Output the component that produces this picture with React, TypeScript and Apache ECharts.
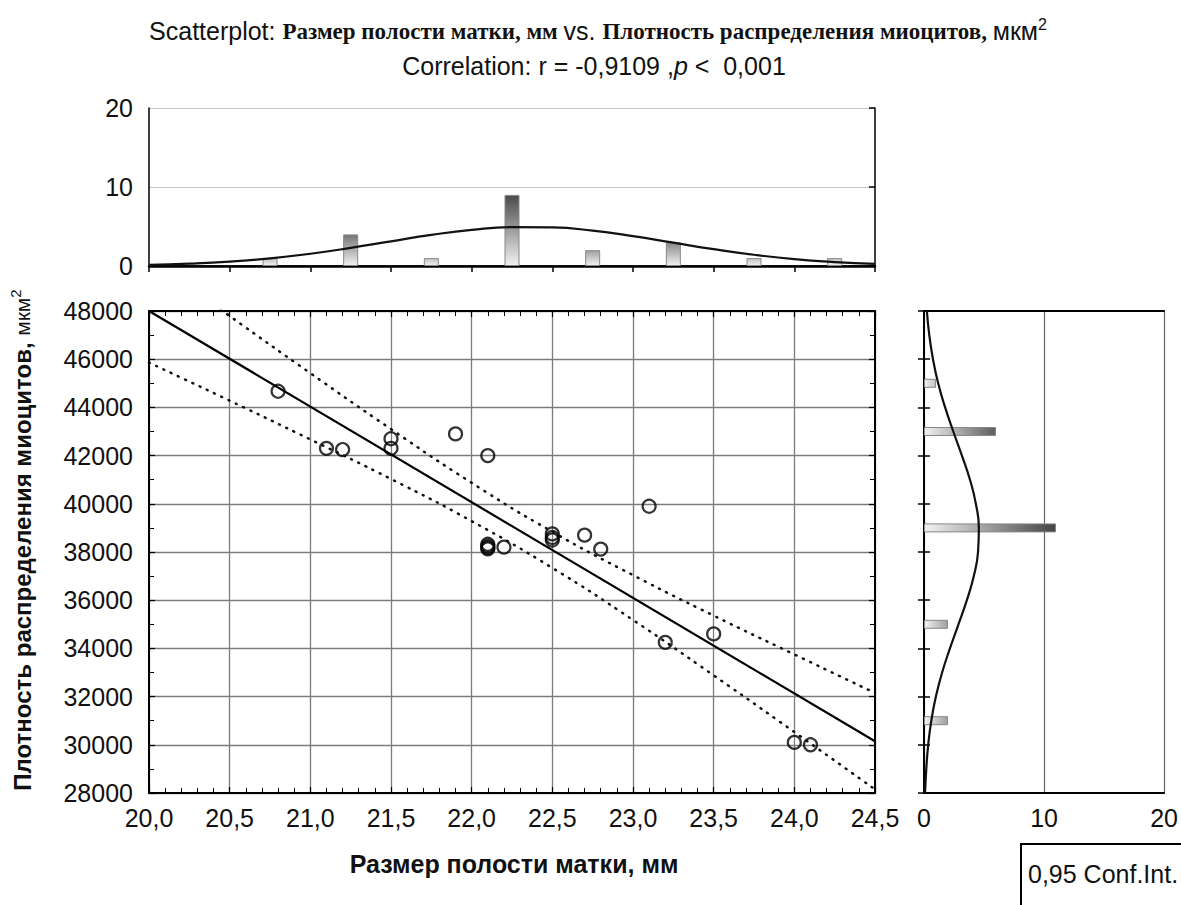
import React, { useEffect, useRef } from "react";
import * as echarts from "echarts";

const SANS = "'Liberation Sans', Arial, sans-serif";
const SERIF = "'Liberation Serif', 'Times New Roman', serif";

// Scatter data: uterine cavity size (mm) vs myocyte distribution density (µm²)
const sizeMm = [20.8, 21.1, 21.2, 21.5, 21.5, 21.9, 22.1, 22.1, 22.1, 22.1, 22.1, 22.2, 22.5, 22.5, 22.5, 22.7, 22.8, 23.1, 23.2, 23.5, 24.0, 24.1];
const density = [44670, 42300, 42250, 42700, 42300, 42900, 42000, 38320, 38250, 38180, 38130, 38200, 38750, 38600, 38500, 38700, 38120, 39900, 34250, 34600, 30100, 30000];

// Regression line and 0.95 confidence band
const fitX = [20.0, 24.5];
const fitY = [48000, 30150];
const bandX = [20.0, 20.5, 21.0, 21.5, 22.0, 22.5, 23.0, 23.5, 24.0, 24.5];
const bandUpper = [50170, 47790, 45420, 43100, 40870, 38840, 37040, 35360, 33750, 32150];
const bandLower = [45860, 44280, 42670, 41030, 39280, 37340, 35180, 32880, 30530, 28150];

// Top histogram (size, bins of 0.5 mm)
const topBinCenters = [20.25, 20.75, 21.25, 21.75, 22.25, 22.75, 23.25, 23.75, 24.25];
const topCounts = [0, 1, 4, 1, 9, 2, 3, 1, 1];
const topCurveX = [20.0, 20.25, 20.5, 20.75, 21.0, 21.25, 21.5, 21.75, 22.0, 22.25, 22.5, 22.75, 23.0, 23.25, 23.5, 23.75, 24.0, 24.25, 24.5];
const topCurveY = [0.15, 0.3, 0.56, 0.97, 1.55, 2.29, 3.12, 3.94, 4.58, 4.92, 4.88, 4.47, 3.78, 2.95, 2.13, 1.42, 0.87, 0.5, 0.26];

// Right histogram (density, bins of 2000)
const rightBins = ["29000", "31000", "33000", "35000", "37000", "39000", "41000", "43000", "45000", "47000"];
const rightCounts = [0, 2, 0, 2, 0, 11, 0, 6, 1, 0];
const rightCurveY = [28000, 29000, 30000, 31000, 32000, 33000, 34000, 35000, 36000, 37000, 38000, 39000, 40000, 41000, 42000, 43000, 44000, 45000, 46000, 47000, 48000];
const rightCurveX = [0.09, 0.19, 0.35, 0.61, 0.99, 1.51, 2.16, 2.87, 3.57, 4.15, 4.5, 4.57, 4.32, 3.83, 3.16, 2.44, 1.76, 1.18, 0.75, 0.44, 0.24];

// Tick labels
const xTickFmt = (v: number) => v.toFixed(1).replace(".", ",");
const histTicks = [0, 10, 20];

function shade(v: number) {
  const g = Math.round(235 - 175 * (1 - Math.exp(-v / 3.6)));
  return `rgb(${g},${g},${g})`;
}

const labelStyle = { fontFamily: SANS, fontSize: 25, color: "#111" };
const blackLine = (w: number) => ({ show: true, lineStyle: { color: "#000", width: w } });

function barItemStyle(v: number, horizontal: boolean) {
  if (v === 0) return { color: "rgba(0,0,0,0)", borderWidth: 0 };
  const stops = horizontal
    ? [{ offset: 0, color: "#f2f2f2" }, { offset: 1, color: shade(v) }]
    : [{ offset: 0, color: shade(v) }, { offset: 1, color: "#f2f2f2" }];
  return {
    color: horizontal
      ? new echarts.graphic.LinearGradient(0, 0, 1, 0, stops)
      : new echarts.graphic.LinearGradient(0, 0, 0, 1, stops),
  };
}

function buildOption() {
  const topBarData = topBinCenters.map((c, i) => ({
    value: [c, topCounts[i]],
    itemStyle: barItemStyle(topCounts[i], false),
  }));
  const rightBarData = rightCounts.map((v) => ({
    value: v,
    itemStyle: barItemStyle(v, true),
  }));

  return {
    animation: false,
    backgroundColor: "#fff",
    grid: [
      { left: 149, top: 108, width: 726, height: 158 },
      { left: 149, top: 311, width: 726, height: 482 },
      { left: 924, top: 311, width: 241, height: 482 },
    ],
    xAxis: [
      {
        gridIndex: 0, type: "value", min: 20, max: 24.5, interval: 0.5,
        axisLine: blackLine(2.5), axisTick: { show: false }, axisLabel: { show: false }, splitLine: { show: false },
      },
      {
        gridIndex: 0, type: "value", position: "top", min: 20, max: 24.5, interval: 0.5,
        axisLine: blackLine(1.5), axisTick: { show: true, inside: true, length: 6, lineStyle: { color: "#000", width: 1.5 } },
        axisLabel: { show: false }, splitLine: { show: false },
      },
      {
        gridIndex: 1, type: "value", min: 20, max: 24.5, interval: 0.5,
        axisLine: blackLine(2), axisTick: { show: true, inside: true, length: 6, lineStyle: { color: "#000", width: 1.2 } },
        minorTick: { show: true, splitNumber: 5, length: 5, lineStyle: { color: "#000", width: 1 } },
        axisLabel: { ...labelStyle, margin: 12, formatter: xTickFmt },
        splitLine: { show: true, lineStyle: { color: "#7c7c7c", width: 1.3 } },
      },
      {
        gridIndex: 1, type: "value", position: "top", min: 20, max: 24.5, interval: 0.5,
        axisLine: blackLine(2), axisTick: { show: true, inside: true, length: 6, lineStyle: { color: "#000", width: 1.2 } },
        minorTick: { show: true, splitNumber: 5, length: 5, lineStyle: { color: "#000", width: 1 } },
        axisLabel: { show: false }, splitLine: { show: false },
      },
      {
        gridIndex: 2, type: "value", min: 0, max: 20, interval: 10,
        axisLine: blackLine(2), axisTick: { show: false },
        axisLabel: { ...labelStyle, margin: 12, formatter: (v: number) => (histTicks.includes(v) ? String(v) : "") },
        splitLine: { show: true, lineStyle: { color: "#666", width: 1.2 } },
      },
      {
        gridIndex: 2, type: "value", position: "top", min: 0, max: 20, interval: 10,
        axisLine: blackLine(2), axisTick: { show: false }, axisLabel: { show: false }, splitLine: { show: false },
      },
    ],
    yAxis: [
      {
        gridIndex: 0, type: "value", min: 0, max: 20, interval: 10,
        axisLine: blackLine(1.5), axisTick: { show: false },
        axisLabel: { ...labelStyle, margin: 16, formatter: (v: number) => String(v) },
        splitLine: { show: true, lineStyle: { color: "#c4c4c4", width: 1.2 } },
      },
      {
        gridIndex: 0, type: "value", position: "right", min: 0, max: 20, interval: 10,
        axisLine: blackLine(1.5), axisTick: { show: true, inside: true, length: 6, lineStyle: { color: "#000", width: 1.5 } },
        axisLabel: { show: false }, splitLine: { show: false },
      },
      {
        gridIndex: 1, type: "value", min: 28000, max: 48000, interval: 2000,
        axisLine: blackLine(2), axisTick: { show: true, inside: true, length: 6, lineStyle: { color: "#000", width: 1.2 } },
        minorTick: { show: true, splitNumber: 2, length: 5, lineStyle: { color: "#000", width: 1 } },
        axisLabel: { ...labelStyle, margin: 16, formatter: (v: number) => String(v) },
        splitLine: { show: true, lineStyle: { color: "#7c7c7c", width: 1.3 } },
      },
      {
        gridIndex: 1, type: "value", position: "right", min: 28000, max: 48000, interval: 2000,
        axisLine: blackLine(2), axisTick: { show: true, inside: true, length: 6, lineStyle: { color: "#000", width: 1.2 } },
        minorTick: { show: true, splitNumber: 2, length: 5, lineStyle: { color: "#000", width: 1 } },
        axisLabel: { show: false }, splitLine: { show: false },
      },
      {
        gridIndex: 2, type: "category", data: rightBins,
        axisLine: blackLine(2), axisTick: { show: true, inside: true, length: 6, lineStyle: { color: "#000", width: 1.5 } },
        axisLabel: { show: false }, splitLine: { show: false },
      },
      {
        gridIndex: 2, type: "category", position: "right", data: rightBins,
        axisLine: blackLine(2), axisTick: { show: true, inside: true, length: 6, lineStyle: { color: "#000", width: 1.5 } },
        axisLabel: { show: false }, splitLine: { show: false },
      },
      {
        gridIndex: 2, type: "value", min: 28000, max: 48000, show: false,
      },
    ],
    series: [
      {
        type: "bar", xAxisIndex: 0, yAxisIndex: 0, barWidth: 15, data: topBarData,
        itemStyle: { borderColor: "#888", borderWidth: 1 },
      },
      {
        type: "line", xAxisIndex: 0, yAxisIndex: 0, smooth: true, showSymbol: false,
        lineStyle: { color: "#111", width: 2.2 },
        data: topCurveX.map((x, i) => [x, topCurveY[i]]),
      },
      {
        type: "line", xAxisIndex: 2, yAxisIndex: 2, showSymbol: false, smooth: true,
        lineStyle: { color: "#111", width: 2.5, type: [1, 7], cap: "round" },
        data: bandX.map((x, i) => [x, bandUpper[i]]),
      },
      {
        type: "line", xAxisIndex: 2, yAxisIndex: 2, showSymbol: false, smooth: true,
        lineStyle: { color: "#111", width: 2.5, type: [1, 7], cap: "round" },
        data: bandX.map((x, i) => [x, bandLower[i]]),
      },
      {
        type: "line", xAxisIndex: 2, yAxisIndex: 2, showSymbol: false,
        lineStyle: { color: "#000", width: 2.2 },
        data: fitX.map((x, i) => [x, fitY[i]]),
      },
      {
        type: "scatter", xAxisIndex: 2, yAxisIndex: 2, symbol: "circle", symbolSize: 13,
        itemStyle: { color: "rgba(0,0,0,0)", borderColor: "#000", borderWidth: 2.2 },
        data: sizeMm.map((x, i) => [x, density[i]]),
      },
      {
        type: "bar", xAxisIndex: 4, yAxisIndex: 4, barWidth: 9, data: rightBarData,
        itemStyle: { borderColor: "#888", borderWidth: 1 },
      },
      {
        type: "line", xAxisIndex: 4, yAxisIndex: 6, smooth: true, showSymbol: false,
        lineStyle: { color: "#111", width: 2.2 },
        data: rightCurveY.map((y, i) => [rightCurveX[i], y]),
      },
    ],
    graphic: [
      {
        type: "text", x: 598, y: 31,
        style: {
          text: "{s|Scatterplot: }{b|Размер полости матки, мм }{s|vs. }{b|Плотность распределения миоцитов, }{s|мкм}{sup|2}",
          align: "center", verticalAlign: "middle",
          rich: {
            s: { fontFamily: SANS, fontSize: 25, fill: "#111", lineHeight: 30 },
            b: { fontFamily: SERIF, fontSize: 23, fontWeight: "bold", fill: "#111", lineHeight: 30 },
            sup: { fontFamily: SANS, fontSize: 16, fill: "#111", verticalAlign: "top", lineHeight: 30, padding: [0, 0, 12, 0] },
          },
        },
      },
      {
        type: "text", x: 594, y: 66,
        style: {
          text: "{s|Correlation: r = -0,9109 ,}{i|p}{s| <  0,001}",
          align: "center", verticalAlign: "middle",
          rich: {
            s: { fontFamily: SANS, fontSize: 25, fill: "#111" },
            i: { fontFamily: SANS, fontSize: 25, fontStyle: "italic", fill: "#111" },
          },
        },
      },
      {
        type: "text", x: 22, y: 540, rotation: Math.PI / 2,
        style: {
          text: "{b|Плотность распределения миоцитов, }{s|мкм}{sup|2}",
          align: "center", verticalAlign: "middle",
          rich: {
            b: { fontFamily: SANS, fontSize: 24, fontWeight: "bold", fill: "#111", lineHeight: 28 },
            s: { fontFamily: SANS, fontSize: 21, fill: "#111", lineHeight: 28 },
            sup: { fontFamily: SANS, fontSize: 15, fill: "#111", verticalAlign: "top", lineHeight: 28, padding: [0, 0, 10, 0] },
          },
        },
      },
      {
        type: "text", x: 514, y: 864,
        style: {
          text: "Размер полости матки, мм",
          fontFamily: SANS, fontSize: 25, fontWeight: "bold", fill: "#111",
          align: "center", verticalAlign: "middle",
        },
      },
      {
        type: "rect", shape: { x: 1021, y: 844, width: 220, height: 90 },
        style: { fill: "none", stroke: "#000", lineWidth: 2 },
      },
      {
        type: "text", x: 1028, y: 874,
        style: {
          text: "0,95 Conf.Int.", fontFamily: SANS, fontSize: 25, fill: "#111",
          align: "left", verticalAlign: "middle",
        },
      },
    ],
  };
}

export default function App() {
  const ref = useRef<HTMLDivElement>(null);
  useEffect(() => {
    if (!ref.current) return;
    const chart = echarts.init(ref.current, null, { renderer: "svg" });
    chart.setOption(buildOption() as any);
    return () => chart.dispose();
  }, []);
  return (
    <div
      ref={ref}
      style={{ position: "fixed", left: 0, top: 0, width: 1181, height: 905, background: "#fff" }}
    />
  );
}
